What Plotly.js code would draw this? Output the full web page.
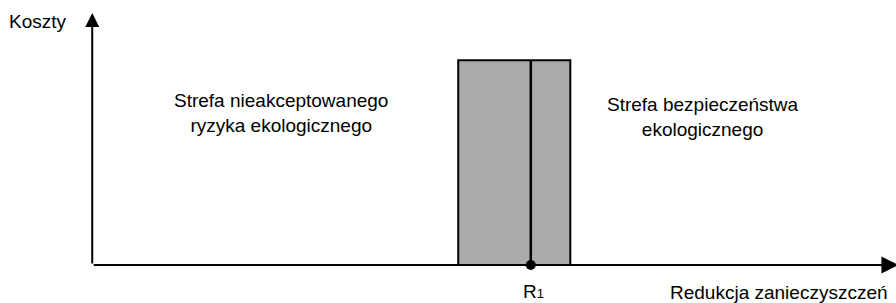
<!DOCTYPE html>
<html>
<head>
<meta charset="utf-8">
<script src="https://cdn.plot.ly/plotly-3.0.1.min.js"></script>
<style>html,body{margin:0;padding:0;background:#fff;}#chart{width:896px;height:303px;}</style>
</head>
<body>
<div id="chart"></div>
<script>
// Data (abstract units: axis origin 0, axis ends at 100)
const zoneStart = [45.4];     // left edge of the transition zone
const zoneEnd = [59.3];       // right edge of the transition zone
const zoneHeight = [81.3];    // height of the transition zone
const r1Value = [54.4];       // R1 position on the reduction axis
const axisEnd = [100, 100];   // [x axis end, y axis end]
const labels = {
  yTitle: 'Koszty',
  xTitle: 'Redukcja zanieczyszczeń',
  r1: 'R<span style="font-size:13px">1</span>',
  left: 'Strefa nieakceptowanego<br>ryzyka ekologicznego',
  right: 'Strefa bezpieczeństwa<br>ekologicznego'
};

const x0 = zoneStart[0], x1 = zoneEnd[0], h = zoneHeight[0], r1 = r1Value[0];

const traces = [
  {
    x: [x0, x1, x1, x0, x0],
    y: [0, 0, h, h, 0],
    mode: 'lines',
    fill: 'toself',
    fillcolor: '#ababab',
    line: {color: '#000', width: 2},
    hoverinfo: 'skip'
  },
  {
    x: [r1, r1],
    y: [0, h],
    mode: 'lines',
    line: {color: '#000', width: 2.5},
    hoverinfo: 'skip'
  },
  {
    x: [r1],
    y: [0],
    mode: 'markers',
    marker: {color: '#000', size: 10},
    hoverinfo: 'skip'
  }
];

const font = {family: 'Liberation Sans, Arial, sans-serif', size: 19, color: '#000'};
const W = 896, H = 303;
function txt(text, px, py, extra) {
  return Object.assign({
    text: text, xref: 'paper', yref: 'paper',
    x: px / W, y: 1 - py / H, xanchor: 'center', yanchor: 'middle',
    showarrow: false, font: font, align: 'center'
  }, extra || {});
}

const annotations = [
  // axes with arrowheads
  {x: axisEnd[0], y: 0, ax: 0, ay: 0, xref: 'x', yref: 'y', axref: 'x', ayref: 'y',
   text: '', showarrow: true, arrowhead: 2, arrowsize: 1.7, arrowwidth: 2, arrowcolor: '#000', standoff: 0},
  {x: 0, y: axisEnd[1], ax: 0, ay: 0, xref: 'x', yref: 'y', axref: 'x', ayref: 'y',
   text: '', showarrow: true, arrowhead: 2, arrowsize: 1.4, arrowwidth: 2, arrowcolor: '#000', standoff: 0},
  txt(labels.yTitle, 38, 21),
  txt(labels.xTitle, 779, 292),
  txt(labels.r1, 533, 291),
  txt(labels.left, 281, 113),
  txt(labels.right, 703, 117)
];

const layout = {
  width: W, height: H,
  margin: {l: 0, r: 0, t: 0, b: 0},
  paper_bgcolor: '#fff', plot_bgcolor: '#fff',
  showlegend: false,
  xaxis: {range: [-11.44, 99.7], visible: false, fixedrange: true},
  yaxis: {range: [-15.08, 105.16], visible: false, fixedrange: true},
  annotations: annotations
};

Plotly.newPlot('chart', traces, layout, {staticPlot: true, displayModeBar: false});
</script>
</body>
</html>
